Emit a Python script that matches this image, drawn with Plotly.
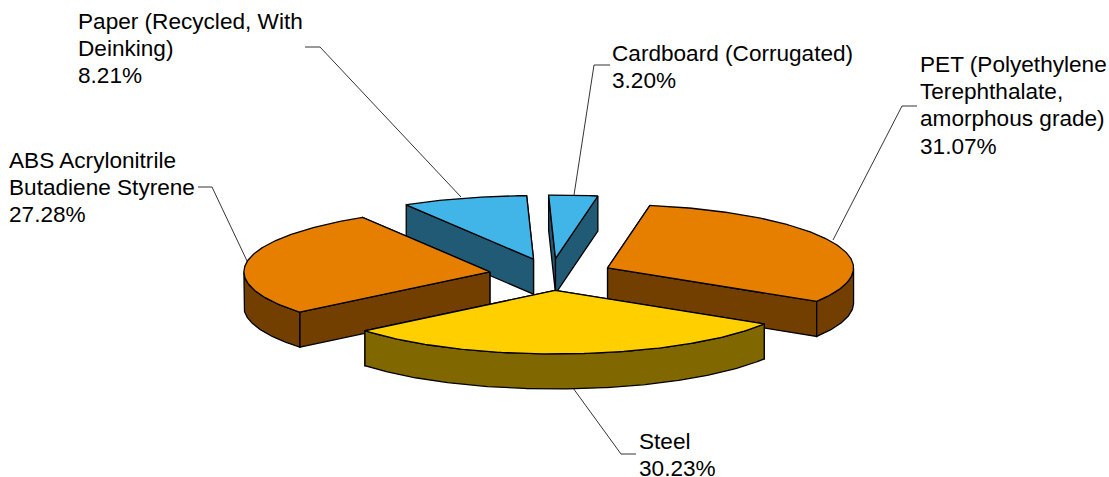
import math
import plotly.graph_objects as go

# ---- data (clockwise from the start angle) ----
categories = ["Cardboard (Corrugated)", "PET (Polyethylene Terephthalate, amorphous grade)",
              "Steel", "ABS Acrylonitrile Butadiene Styrene", "Paper (Recycled, With Deinking)"]
values = [3.20, 31.07, 30.23, 27.28, 8.21]
label_lines = [
    ["Cardboard (Corrugated)", "3.20%"],
    ["PET (Polyethylene", "Terephthalate,", "amorphous grade)", "31.07%"],
    ["Steel", "30.23%"],
    ["ABS Acrylonitrile", "Butadiene Styrene", "27.28%"],
    ["Paper (Recycled, With", "Deinking)", "8.21%"],
]

# ---- style / layout ----
top_colors = ["#41B4E8", "#E67E00", "#FFCF00", "#E67E00", "#41B4E8"]
side_colors = ["#205A74", "#733F00", "#806700", "#733F00", "#205A74"]
draw_order = [4, 0, 3, 1, 2]
START_DEG = -1.6
CX, CY = 551.0, 274.5
RX, RY = 246.0, 63.5
EXPLODE = 0.252
DEPTH = 35.0
label_pos = [(612, 53), (920, 64), (639, 441), (9, 160), (78, 21)]
LINE_STEP = 27.4
leaders = [
    [(610, 65), (594, 65), (574, 195)],
    [(917, 106), (902, 106), (833, 240)],
    [(636, 454), (621, 454), (573, 388)],
    [(198, 187), (212, 187), (248, 263)],
    [(305, 47), (320, 47), (461, 197)],
]

fig = go.Figure()


def add_poly(pts, color):
    fig.add_trace(go.Scatter(
        x=[p[0] for p in pts] + [pts[0][0]], y=[p[1] for p in pts] + [pts[0][1]],
        mode="lines", fill="toself", fillcolor=color,
        line=dict(color="#000000", width=1.3), hoverinfo="skip", showlegend=False))


for pts in leaders:
    fig.add_trace(go.Scatter(x=[p[0] for p in pts], y=[p[1] for p in pts], mode="lines",
                             line=dict(color="#000000", width=0.8), hoverinfo="skip", showlegend=False))

total = sum(values)
spans = []
a = START_DEG
for v in values:
    b = a + v / total * 360.0
    spans.append((a, b))
    a = b


def point(ax, ay, deg):
    t = math.radians(deg)
    return (ax + RX * math.sin(t), ay - RY * math.cos(t))


for i in draw_order:
    a0, a1 = spans[i]
    mid = math.radians((a0 + a1) / 2)
    ax = CX + EXPLODE * RX * math.sin(mid)
    ay = CY - EXPLODE * RY * math.cos(mid)
    n = max(8, int((a1 - a0) * 1.5))
    arc = [point(ax, ay, a0 + (a1 - a0) * k / n) for k in range(n + 1)]
    down = lambda pts: [(x, y + DEPTH) for x, y in pts]
    apex = (ax, ay)
    walls = [[apex, arc[0], *down([arc[0], apex])],
             [apex, arc[-1], *down([arc[-1], apex])]]
    # outer wall: only the part on the front half of the ellipse
    front = [p for p, k in zip(arc, range(n + 1))
             if 90 <= (a0 + (a1 - a0) * k / n) % 360 <= 270]
    if len(front) > 1:
        walls.append(front + down(front)[::-1])
    walls.sort(key=lambda w: sum(p[1] for p in w) / len(w))
    for w in walls:
        add_poly(w, side_colors[i])
    add_poly([apex] + arc, top_colors[i])

annotations = []
for lines, (lx, ly) in zip(label_lines, label_pos):
    for k, line in enumerate(lines):
        annotations.append(dict(x=lx, y=ly + k * LINE_STEP, xref="x", yref="y", text=line,
                                showarrow=False, xanchor="left", yanchor="middle", align="left",
                                borderpad=0, xshift=-1,
                                font=dict(family="Liberation Sans, Arial, sans-serif", size=22.6, color="#000000")))

fig.update_layout(
    width=1109, height=477, margin=dict(l=0, r=0, t=0, b=0),
    paper_bgcolor="#FFFFFF", plot_bgcolor="#FFFFFF", showlegend=False,
    xaxis=dict(range=[0, 1109], visible=False, fixedrange=True),
    yaxis=dict(range=[477, 0], visible=False, fixedrange=True),
    annotations=annotations)
fig.write_html("out.html", config={"displayModeBar": False},
               post_script="document.body.style.margin='0';document.documentElement.style.overflow='hidden';")
